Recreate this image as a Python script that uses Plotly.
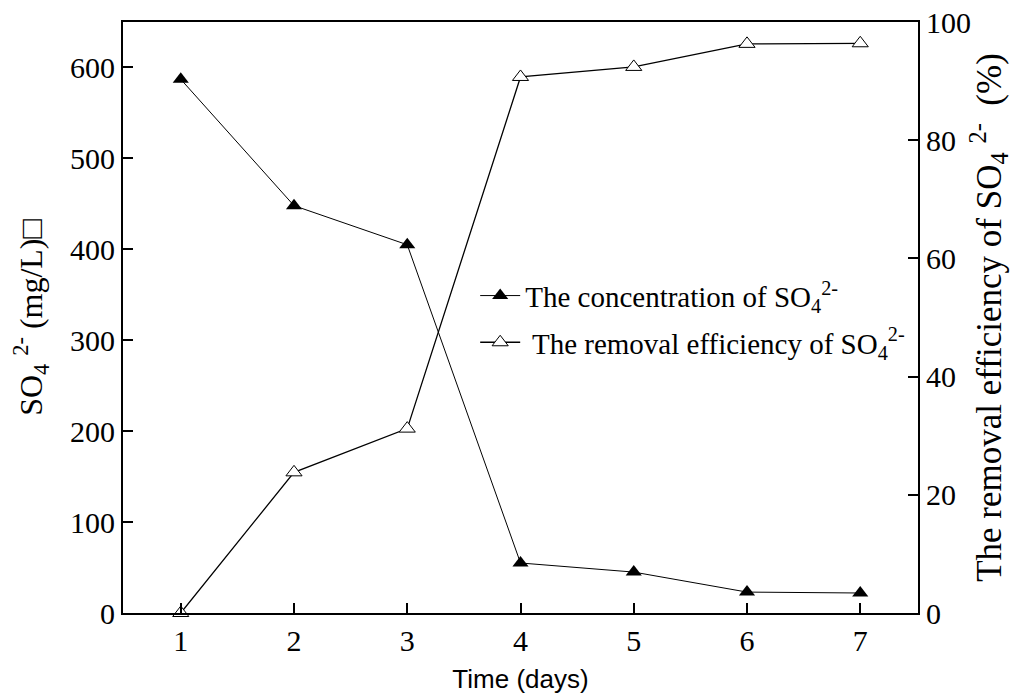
import plotly.graph_objects as go

days = [1, 2, 3, 4, 5, 6, 7]
concentration = [587, 448, 405, 55, 45, 23, 22]
removal = [0, 23.8, 31.2, 90.7, 92.4, 96.3, 96.4]

x_ticks = [1, 2, 3, 4, 5, 6, 7]
left_ticks = [0, 100, 200, 300, 400, 500, 600]
right_ticks = [0, 20, 40, 60, 80, 100]

serif = "Liberation Serif, Times New Roman, serif"
sans = "Liberation Sans, Arial, sans-serif"

fig = go.Figure()
fig.add_trace(go.Scatter(
    x=days, y=concentration, mode="lines+markers",
    name="The concentration of SO<sub>4</sub><sup>2-</sup>",
    legendgroup="a",
    line=dict(color="black", width=1),
    marker=dict(symbol="triangle-up", size=14, color="black"),
    yaxis="y",
))
fig.add_trace(go.Scatter(
    x=days, y=removal, mode="lines+markers",
    name=" The removal efficiency of SO<sub>4</sub><sup>2-</sup>",
    legendgroup="b",
    line=dict(color="black", width=1.3),
    marker=dict(symbol="triangle-up", size=14, color="white",
                line=dict(color="black", width=1)),
    yaxis="y2",
    cliponaxis=False,
))

fig.update_layout(
    width=1018, height=696,
    margin=dict(l=123, r=100, t=22, b=83, autoexpand=False),
    paper_bgcolor="white", plot_bgcolor="white",
    font=dict(family=serif, size=29, color="black"),
    showlegend=True,
    legend=dict(
        x=0.443, y=0.58, xanchor="left", yanchor="top",
        bgcolor="rgba(0,0,0,0)", borderwidth=0,
        font=dict(family=serif, size=29, color="black"),
        tracegroupgap=6, traceorder="grouped",
        itemwidth=40,
    ),
    xaxis=dict(
        range=[0.49, 7.51], tickvals=x_ticks, automargin=False,
        ticks="inside", ticklen=10, tickwidth=1.5, tickcolor="black",
        showline=True, linecolor="black", linewidth=2, mirror=True,
        showgrid=False, zeroline=False,
        title=dict(text="Time (days)", font=dict(family=sans, size=26), standoff=14),
        tickfont=dict(family=serif, size=30),
    ),
    yaxis=dict(
        range=[0, 650], tickvals=left_ticks, automargin=False,
        ticks="inside", ticklen=10, tickwidth=1.5, tickcolor="black",
        showline=True, linecolor="black", linewidth=2,
        showgrid=False, zeroline=False,
        title=dict(text="SO<sub>4</sub> <sup>2-</sup> (mg/L)\u25A1", font=dict(family=serif, size=32), standoff=18),
        tickfont=dict(family=serif, size=30),
    ),
    yaxis2=dict(
        range=[0, 100], tickvals=right_ticks, automargin=False,
        overlaying="y", side="right",
        ticks="inside", ticklen=10, tickwidth=1.5, tickcolor="black",
        showline=True, linecolor="black", linewidth=2,
        showgrid=False, zeroline=False,
        title=dict(text="The removal efficiency of SO<sub>4</sub> <sup>2-</sup>  (%)", font=dict(family=serif, size=35), standoff=6),
        tickfont=dict(family=serif, size=30),
    ),
)

fig.write_html("out.html")
